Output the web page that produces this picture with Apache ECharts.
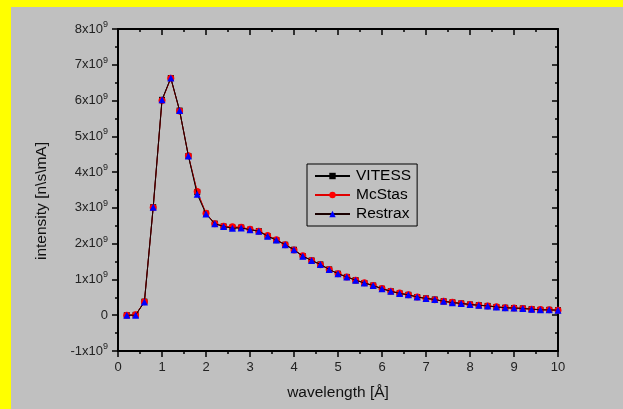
<!DOCTYPE html>
<html>
<head>
<meta charset="utf-8">
<script src="https://cdn.jsdelivr.net/npm/echarts@6/dist/echarts.min.js"></script>
<style>
  html, body { margin: 0; padding: 0; background: #c0c0c0; }
  #chart { width: 623px; height: 409px; }
</style>
</head>
<body>
<div id="chart"></div>
<script>
// Wavelength grid [Å]
const wavelength = [0.2, 0.4, 0.6, 0.8, 1.0, 1.2, 1.4, 1.6, 1.8, 2.0,
  2.2, 2.4, 2.6, 2.8, 3.0, 3.2, 3.4, 3.6, 3.8, 4.0,
  4.2, 4.4, 4.6, 4.8, 5.0, 5.2, 5.4, 5.6, 5.8, 6.0,
  6.2, 6.4, 6.6, 6.8, 7.0, 7.2, 7.4, 7.6, 7.8, 8.0,
  8.2, 8.4, 8.6, 8.8, 9.0, 9.2, 9.4, 9.6, 9.8, 10.0];

// Intensities in units of 10^9 n/s/mA
const vitess = [0.00, 0.01, 0.38, 3.02, 6.02, 6.63, 5.72, 4.45, 3.44, 2.84,
  2.56, 2.48, 2.45, 2.45, 2.39, 2.35, 2.21, 2.10, 1.97, 1.83,
  1.65, 1.53, 1.42, 1.28, 1.16, 1.07, 0.98, 0.90, 0.83, 0.74,
  0.67, 0.61, 0.57, 0.51, 0.47, 0.44, 0.39, 0.36, 0.33, 0.30,
  0.28, 0.26, 0.23, 0.21, 0.20, 0.19, 0.17, 0.15, 0.15, 0.14];
const mcstas = [0.00, 0.01, 0.38, 3.01, 6.00, 6.62, 5.71, 4.46, 3.46, 2.85,
  2.56, 2.49, 2.47, 2.46, 2.40, 2.35, 2.23, 2.11, 1.97, 1.82,
  1.66, 1.53, 1.41, 1.28, 1.16, 1.07, 0.98, 0.91, 0.83, 0.75,
  0.67, 0.62, 0.57, 0.51, 0.47, 0.43, 0.39, 0.36, 0.33, 0.30,
  0.28, 0.26, 0.24, 0.21, 0.20, 0.19, 0.17, 0.16, 0.15, 0.14];
const restrax = [0.00, 0.00, 0.37, 3.02, 6.02, 6.63, 5.72, 4.45, 3.38, 2.83,
  2.56, 2.48, 2.43, 2.44, 2.39, 2.35, 2.21, 2.10, 1.97, 1.83,
  1.65, 1.53, 1.42, 1.28, 1.16, 1.07, 0.98, 0.90, 0.83, 0.74,
  0.67, 0.61, 0.57, 0.51, 0.47, 0.44, 0.39, 0.35, 0.33, 0.30,
  0.28, 0.26, 0.23, 0.21, 0.20, 0.19, 0.17, 0.15, 0.15, 0.14];

const seriesNames = ['VITESS', 'McStas', 'Restrax'];
const xTitle = 'wavelength [Å]';
const yTitle = 'intensity [n\\s\\mA]';

const pairs = ys => wavelength.map((x, i) => [x, ys[i]]);

const font = 'Liberation Sans, Arial, sans-serif';
const fmtY = v => v === 0 ? '0' : '{b|' + v + 'x10}{s|9}';

// shared look of all four frame axes
const frameAxis = {
  axisLine: { show: true, onZero: false, lineStyle: { color: '#000', width: 2 } },
  splitLine: { show: false }
};
const ticks = inside => ({
  axisTick: { show: true, length: 6, inside: inside, lineStyle: { color: '#000', width: 1.5 } },
  minorTick: { show: true, splitNumber: 2, length: 3, lineStyle: { color: '#000', width: 1.5 } }
});

const chart = echarts.init(document.getElementById('chart'), null, { renderer: 'canvas' });
chart.setOption({
  backgroundColor: '#c0c0c0',
  animation: false,
  graphic: [
    { type: 'rect', shape: { x: 0, y: 0, width: 623, height: 7 }, style: { fill: '#ffff00' }, silent: true },
    { type: 'rect', shape: { x: 0, y: 0, width: 11, height: 409 }, style: { fill: '#ffff00' }, silent: true },
    {
      type: 'text', x: 42, y: 201, rotation: Math.PI / 2,
      style: { text: yTitle, fill: '#111', font: '15.5px ' + font, align: 'center', verticalAlign: 'middle' }
    }
  ],
  grid: { left: 118, right: 65, top: 29, bottom: 58, containLabel: false },
  legend: {
    data: seriesNames,
    orient: 'vertical',
    left: 307, top: 164,
    padding: [4, 6, 4, 7],
    itemGap: 3,
    itemWidth: 35, itemHeight: 8,
    borderColor: '#000', borderWidth: 1,
    backgroundColor: 'transparent',
    textStyle: { fontFamily: font, fontSize: 15.5, color: '#000', padding: [0, 0, 0, 1] }
  },
  xAxis: [
    Object.assign({
      type: 'value', min: 0, max: 10, interval: 1, position: 'bottom',
      name: xTitle, nameLocation: 'middle', nameGap: 34,
      nameTextStyle: { fontFamily: font, fontSize: 15.5, color: '#111' },
      axisLabel: { fontFamily: font, fontSize: 13, color: '#222', margin: 10 }
    }, frameAxis, ticks(false)),
    Object.assign({
      type: 'value', min: 0, max: 10, interval: 1, position: 'top',
      axisLabel: { show: false }
    }, frameAxis, ticks(true))
  ],
  yAxis: [
    Object.assign({
      type: 'value', min: -1, max: 8, interval: 1, position: 'left',
      axisLabel: {
        margin: 10, color: '#222', fontFamily: font, fontSize: 13,
        formatter: fmtY,
        rich: {
          b: { fontFamily: font, fontSize: 13, color: '#222' },
          s: { fontFamily: font, fontSize: 9, color: '#222', verticalAlign: 'bottom', padding: [0, 0, 9, 0] }
        }
      }
    }, frameAxis, ticks(false)),
    Object.assign({
      type: 'value', min: -1, max: 8, interval: 1, position: 'right',
      axisLabel: { show: false }
    }, frameAxis, ticks(true))
  ],
  series: [
    {
      name: seriesNames[0], type: 'line', data: pairs(vitess),
      symbol: 'rect', symbolSize: 6,
      lineStyle: { color: '#000', width: 1 },
      itemStyle: { color: '#000' }, z: 2
    },
    {
      name: seriesNames[1], type: 'line', data: pairs(mcstas),
      symbol: 'circle', symbolSize: 7,
      lineStyle: { color: '#e00000', width: 1 },
      itemStyle: { color: '#ff0000' }, z: 3
    },
    {
      name: seriesNames[2], type: 'line', data: pairs(restrax),
      symbol: 'triangle', symbolSize: 7,
      lineStyle: { color: '#1a0000', width: 1 },
      itemStyle: { color: '#0000ff' }, z: 4
    }
  ]
});
</script>
</body>
</html>
